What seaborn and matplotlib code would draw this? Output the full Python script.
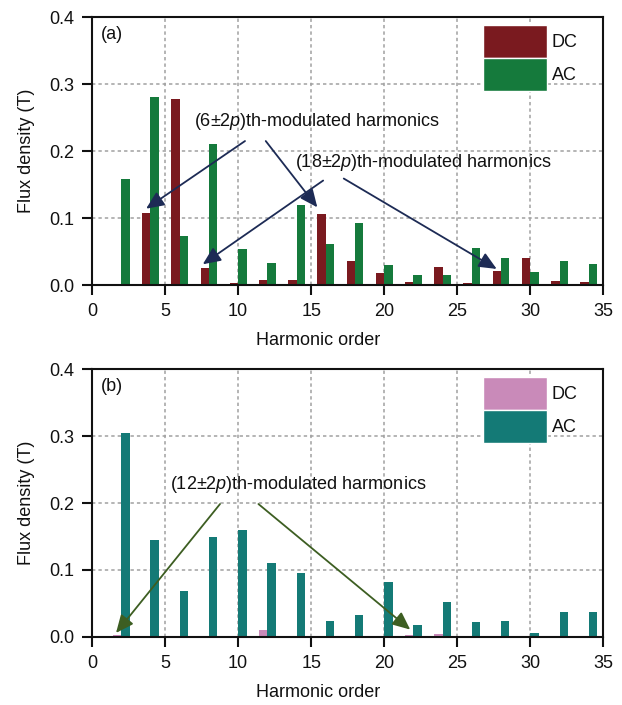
import matplotlib
matplotlib.use("Agg")
import matplotlib.pyplot as plt
from matplotlib.patches import Patch
import numpy as np
import pandas as pd
import seaborn as sns

# ---- data -------------------------------------------------------------
series_names = ["DC", "AC"]

orders_a = [1, 2, 4, 6, 8, 10, 12, 14, 16, 18, 20, 22, 24, 26, 28, 30, 32, 34]
dc_a = [0.002, 0.0, 0.108, 0.278, 0.026, 0.0035, 0.008, 0.007, 0.106, 0.036,
        0.0175, 0.004, 0.0275, 0.0025, 0.021, 0.040, 0.006, 0.0045]
ac_a = [0.001, 0.158, 0.281, 0.073, 0.210, 0.054, 0.033, 0.119, 0.062, 0.093,
        0.030, 0.0155, 0.0155, 0.056, 0.040, 0.019, 0.036, 0.031]

orders_b = [2, 4, 6, 8, 10, 12, 14, 16, 18, 20, 22, 24, 26, 28, 30, 32, 34]
dc_b = [0.0025, 0.0, 0.0, 0.0, 0.002, 0.0105, 0.0, 0.0, 0.0, 0.0,
        0.0025, 0.004, 0.0, 0.0, 0.0, 0.0, 0.0]
ac_b = [0.305, 0.145, 0.069, 0.149, 0.160, 0.110, 0.096, 0.024, 0.033, 0.082,
        0.018, 0.052, 0.023, 0.024, 0.0055, 0.038, 0.037]

x_ticks = [0, 5, 10, 15, 20, 25, 30, 35]
y_ticks = [0.0, 0.1, 0.2, 0.3, 0.4]

colors_a = ["#7a1a1f", "#157a3c"]
colors_b = ["#c98ab9", "#147a76"]
arrow_a = "#1d2b55"
arrow_b = "#3d5e22"

# ---- style ------------------------------------------------------------
sns.set_theme(style="white")
plt.rcParams["font.family"] = ["Liberation Sans", "DejaVu Sans"]
plt.rcParams["mathtext.fontset"] = "custom"
plt.rcParams["mathtext.rm"] = "Liberation Sans"
plt.rcParams["mathtext.it"] = "Liberation Sans:italic"
plt.rcParams["font.size"] = 13
for key in ["text.color", "axes.labelcolor", "xtick.color", "ytick.color"]:
    plt.rcParams[key] = "#111111"

FS = 13

fig = plt.figure(figsize=(6.22, 7.05), dpi=100)
ax_a = fig.add_axes([0.148, 0.5957, 0.822, 0.380])
ax_b = fig.add_axes([0.148, 0.0965, 0.822, 0.380])


def long_frame(orders, dc, ac):
    return pd.DataFrame({
        "order": orders * 2,
        "flux": dc + ac,
        "series": ["DC"] * len(orders) + ["AC"] * len(orders),
    })


def draw_panel(ax, orders, dc, ac, colors, tag):
    df = long_frame(orders, dc, ac)
    spacing = np.min(np.diff(sorted(set(orders))))
    sns.barplot(data=df, x="order", y="flux", hue="series",
                hue_order=series_names, palette=colors, saturation=1,
                native_scale=True, width=1.15 / spacing, gap=0,
                errorbar=None, linewidth=0, legend=False, ax=ax, zorder=2)
    ax.set_xlim(0, 35)
    ax.set_ylim(0, 0.4)
    ax.set_xticks(x_ticks)
    ax.set_yticks(y_ticks)
    ax.set_yticklabels([f"{v:.1f}" for v in y_ticks])
    ax.set_xticklabels([str(v) for v in x_ticks])
    ax.set_axisbelow(True)
    ax.grid(True, color="#a0a0a0", linestyle=(0, (2.2, 2.0)), linewidth=1.1)
    for s in ax.spines.values():
        s.set_color("#111111")
        s.set_linewidth(1.5)
    ax.tick_params(direction="out", length=7, width=1.5, color="#111111",
                   labelsize=FS, bottom=True, left=True)
    ax.tick_params(axis="x", pad=6)
    ax.tick_params(axis="y", pad=6)
    ax.set_xlabel("Harmonic order", fontsize=FS)
    ax.set_ylabel("Flux density (T)", fontsize=FS)
    ax.xaxis.set_label_coords(0.443, -0.175)
    ax.yaxis.set_label_coords(-0.112, 0.5)
    ax.text(0.018, 0.935, tag, transform=ax.transAxes, fontsize=FS,
            ha="left", va="center")
    handles = [Patch(facecolor=c, edgecolor="white", linewidth=1.0)
               for c in colors]
    ax.legend(handles, series_names, loc="upper left",
              bbox_to_anchor=(0.765, 0.972), frameon=False,
              handlelength=3.55, handleheight=2.44, labelspacing=0.0,
              handletextpad=0.25, borderpad=0, borderaxespad=0, fontsize=FS)


def arrow(ax, start, end, color):
    ax.annotate("", xy=end, xytext=start,
                arrowprops=dict(arrowstyle="-|>,head_length=0.9,head_width=0.4",
                                color=color, lw=1.3, shrinkA=0, shrinkB=0,
                                mutation_scale=12), zorder=5)


draw_panel(ax_a, orders_a, dc_a, ac_a, colors_a, "(a)")
draw_panel(ax_b, orders_b, dc_b, ac_b, colors_b, "(b)")

# annotations, panel (a)
ax_a.text(7.0, 0.244, r"(6±2$\it{p}$)th-modulated harmonics", fontsize=FS,
          ha="left", va="center", zorder=6)
arrow(ax_a, (10.47, 0.215), (3.70, 0.114), arrow_a)
arrow(ax_a, (11.89, 0.215), (15.42, 0.116), arrow_a)
ax_a.text(13.9, 0.183, r"(18±2$\it{p}$)th-modulated harmonics", fontsize=FS,
          ha="left", va="center", zorder=6)
arrow(ax_a, (15.82, 0.156), (7.58, 0.031), arrow_a)
arrow(ax_a, (17.23, 0.159), (27.70, 0.024), arrow_a)

# annotations, panel (b)
ax_b.text(5.33, 0.227, r"(12±2$\it{p}$)th-modulated harmonics", fontsize=FS,
          ha="left", va="center", zorder=6)
arrow(ax_b, (8.76, 0.1985), (1.64, 0.006), arrow_b)
arrow(ax_b, (11.39, 0.1985), (21.78, 0.011), arrow_b)

fig.savefig("out.png", dpi=100)
